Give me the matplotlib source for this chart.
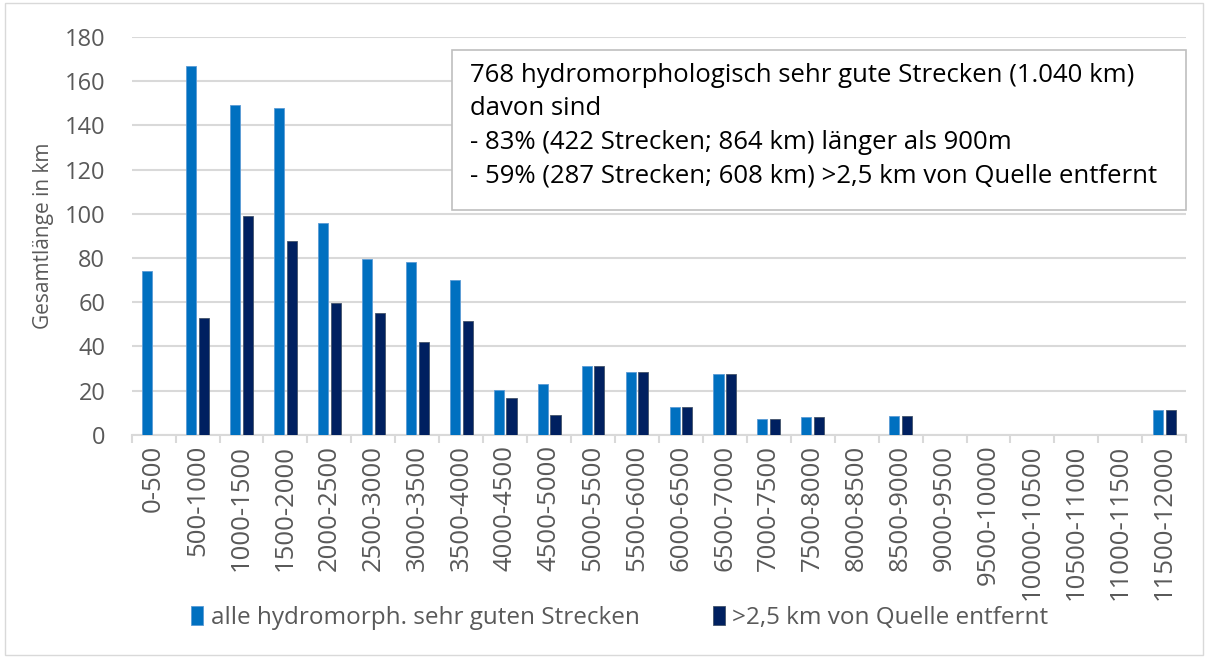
import matplotlib.pyplot as plt
import numpy as np
from matplotlib.patches import Rectangle

plt.rcParams['font.family'] = ['Open Sans', 'DejaVu Sans']

categories = ['0-500', '500-1000', '1000-1500', '1500-2000', '2000-2500', '2500-3000',
              '3000-3500', '3500-4000', '4000-4500', '4500-5000', '5000-5500', '5500-6000',
              '6000-6500', '6500-7000', '7000-7500', '7500-8000', '8000-8500', '8500-9000',
              '9000-9500', '9500-10000', '10000-10500', '10500-11000', '11000-11500',
              '11500-12000']
alle = [74, 167, 149, 148, 96, 79.5, 78, 70, 20.5, 23, 31, 28.5, 12.5, 27.5, 7, 8, 0, 8.5,
        0, 0, 0, 0, 0, 11.5]
entfernt = [0, 53, 99, 87.5, 59.5, 55, 42, 51.5, 16.5, 9, 31, 28.5, 12.5, 27.5, 7, 8, 0, 8.5,
            0, 0, 0, 0, 0, 11.5]
yticks = [0, 20, 40, 60, 80, 100, 120, 140, 160, 180]
box_text = ("768 hydromorphologisch sehr gute Strecken (1.040 km)\n"
            "davon sind\n"
            "- 83% (422 Strecken; 864 km) länger als 900m\n"
            "- 59% (287 Strecken; 608 km) >2,5 km von Quelle entfernt")

c1 = '#0070C0'
c2 = '#002060'
grey = '#595959'
grid = '#d9d9d9'

fig = plt.figure(figsize=(12.08, 6.58), dpi=100)
ax = fig.add_axes([0.109, 0.339, 0.873, 0.605])

x = np.arange(len(categories))
w = 0.23
ax.bar(x - 0.145, alle, w, color=c1, edgecolor='#5b9bd5', linewidth=0.6,
       label='alle hydromorph. sehr guten Strecken', zorder=3)
ax.bar(x + 0.145, entfernt, w, color=c2, edgecolor='#44546a', linewidth=0.6,
       label='>2,5 km von Quelle entfernt', zorder=3)

ax.set_xlim(-0.5, len(categories) - 0.5)
ax.set_ylim(0, 180)
ax.set_yticks(yticks)
ax.yaxis.grid(True, color=grid, linewidth=1.5, zorder=0)
ax.set_axisbelow(True)
for s in ['top', 'right', 'left']:
    ax.spines[s].set_visible(False)
ax.spines['bottom'].set_color(grid)
ax.spines['bottom'].set_linewidth(1.5)

ax.set_xticks(np.arange(len(categories) + 1) - 0.5, minor=True)
ax.set_xticks(x)
ax.set_xticklabels(categories, rotation=90, fontsize=18.5, color=grey)
ax.tick_params(axis='x', which='major', length=0, pad=7)
ax.tick_params(axis='x', which='minor', length=6, color=grid, width=1.5)
ax.tick_params(axis='y', length=0, labelsize=17, labelcolor=grey, pad=19)
ax.set_ylabel('Gesamtlänge in km', fontsize=15, color=grey, labelpad=8)

# annotation box
fig.patches.append(Rectangle((0.374, 0.681), 0.608, 0.243, transform=fig.transFigure,
                             facecolor='white', edgecolor='#bfbfbf', linewidth=1.2,
                             zorder=5))
fig.text(0.389, 0.905, box_text, fontsize=18.5, color='black', va='top', ha='left',
         linespacing=1.45, zorder=6)

ax.legend(loc='center', bbox_to_anchor=(0.513, 0.061), bbox_transform=fig.transFigure,
          ncol=2, frameon=False, fontsize=17.5, labelcolor=grey, handlelength=0.5,
          handleheight=0.8, handletextpad=0.3, columnspacing=3.0)

fig.patches.append(Rectangle((0.004, 0.004), 0.992, 0.992, transform=fig.transFigure,
                             fill=False, edgecolor='#d9d9d9', linewidth=1))

fig.savefig('out.png', dpi=100)
